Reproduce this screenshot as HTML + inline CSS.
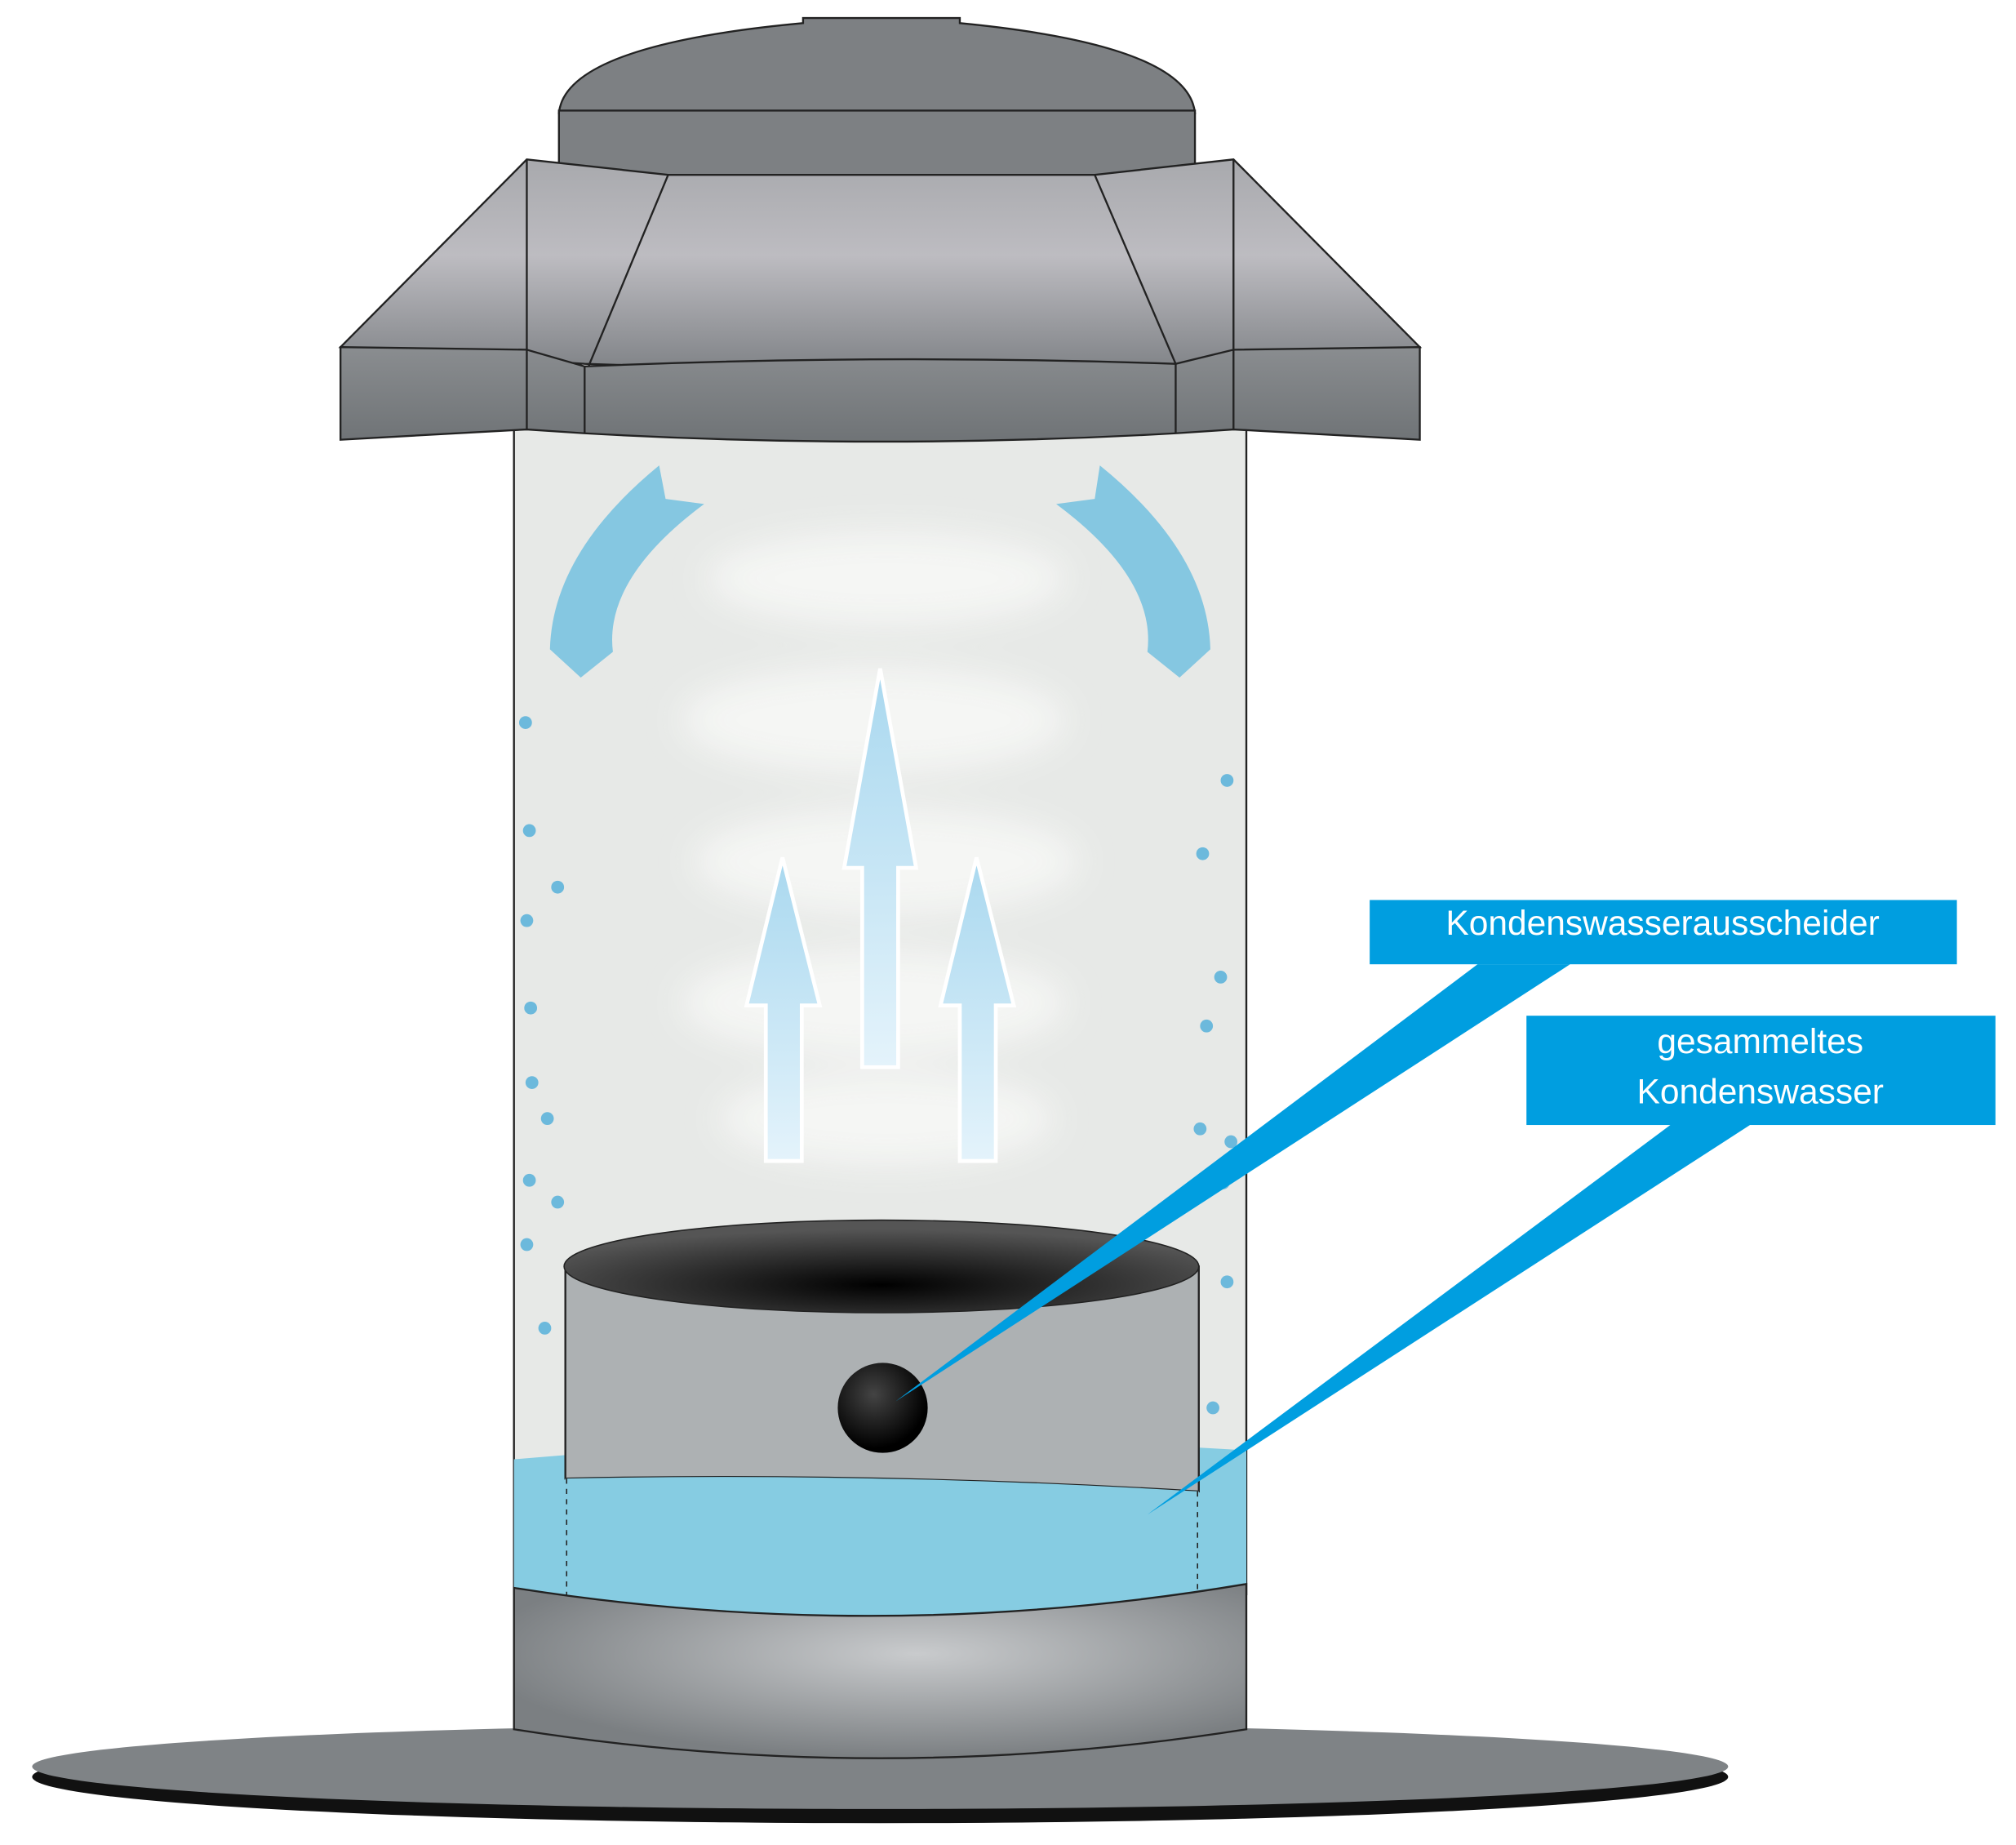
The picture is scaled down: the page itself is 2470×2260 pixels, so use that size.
<!DOCTYPE html>
<html><head><meta charset="utf-8"><style>html,body{margin:0;padding:0;background:#fff}svg{display:block}</style></head><body>
<svg width="2470" height="2260" viewBox="0 0 1569 1435" preserveAspectRatio="none" xmlns="http://www.w3.org/2000/svg">
<defs>
<linearGradient id="hood" x1="0" y1="0" x2="0" y2="1"><stop offset="0" stop-color="#a8a9ad"/><stop offset="0.45" stop-color="#bdbcc1"/><stop offset="1" stop-color="#7f8286"/></linearGradient>
<linearGradient id="band" x1="0" y1="0" x2="0" y2="1"><stop offset="0" stop-color="#8a8d90"/><stop offset="1" stop-color="#6f7376"/></linearGradient>
<radialGradient id="base" cx="0.55" cy="0.4" r="0.6"><stop offset="0" stop-color="#c9cbcd"/><stop offset="1" stop-color="#7b7f82"/></radialGradient>
<radialGradient id="cuptop" cx="0.5" cy="0.7" r="0.6"><stop offset="0" stop-color="#000"/><stop offset="1" stop-color="#555"/></radialGradient>
<radialGradient id="ball" cx="0.4" cy="0.35" r="0.6"><stop offset="0" stop-color="#444"/><stop offset="1" stop-color="#000"/></radialGradient>
<linearGradient id="arr" x1="0" y1="0" x2="0" y2="1"><stop offset="0" stop-color="#a9d8ef"/><stop offset="1" stop-color="#e4f3fb"/></linearGradient>
<filter id="blur"><feGaussianBlur stdDeviation="14"/></filter>
</defs>
<ellipse cx="685" cy="1382" rx="660" ry="36" fill="#111"/>
<ellipse cx="685" cy="1374" rx="660" ry="33" fill="#7f8386"/>
<rect x="400" y="330" width="570" height="910" fill="#e7e9e7" stroke="#222" stroke-width="1.5"/>
<g filter="url(#blur)" fill="#f7f8f6" opacity="0.9">
<ellipse cx="690" cy="450" rx="140" ry="35"/><ellipse cx="680" cy="560" rx="150" ry="40"/>
<ellipse cx="690" cy="670" rx="150" ry="40"/><ellipse cx="680" cy="780" rx="150" ry="40"/><ellipse cx="690" cy="870" rx="130" ry="35"/>
</g>
<g fill="#6cb9dc">
<circle cx="409" cy="562" r="5"/><circle cx="412" cy="646" r="5"/><circle cx="434" cy="690" r="5"/><circle cx="410" cy="716" r="5"/><circle cx="413" cy="784" r="5"/><circle cx="414" cy="842" r="5"/><circle cx="426" cy="870" r="5"/><circle cx="412" cy="918" r="5"/><circle cx="434" cy="935" r="5"/><circle cx="410" cy="968" r="5"/><circle cx="424" cy="1033" r="5"/>
<circle cx="955" cy="607" r="5"/><circle cx="936" cy="664" r="5"/><circle cx="950" cy="760" r="5"/><circle cx="939" cy="798" r="5"/><circle cx="934" cy="878" r="5"/><circle cx="958" cy="888" r="5"/><circle cx="952" cy="920" r="5"/><circle cx="955" cy="997" r="5"/><circle cx="944" cy="1095" r="5"/>
</g>
<path d="M548 392 L518 388 L513 362 Q430 430 428 505 L452 527 L477 507 Q470 450 548 392Z" fill="#85c7e1"/>
<path d="M822 392 L852 388 L856 362 Q940 430 942 505 L918 527 L893 507 Q900 450 822 392Z" fill="#85c7e1"/>
<g fill="url(#arr)" stroke="#fff" stroke-width="3">
<path d="M685 520 L713 675 L699 675 L699 830 L671 830 L671 675 L657 675Z"/>
<path d="M609 667 L638 782 L624 782 L624 903 L596 903 L596 782 L581 782Z"/>
<path d="M760 667 L789 782 L775 782 L775 903 L747 903 L747 782 L732 782Z"/>
</g>
<path d="M400 1135 Q685 1110 970 1128 L970 1265 L400 1265Z" fill="#86cce2"/>
<path d="M440 985 L933 985 L933 1160 Q685 1145 440 1150Z" fill="#adb1b3" stroke="#222" stroke-width="1.5"/>
<path d="M440 1150 Q685 1145 933 1160 L933 1245 L440 1245Z" fill="#86cce2"/>
<line x1="441" y1="1150" x2="441" y2="1250" stroke="#222" stroke-dasharray="4,4"/>
<line x1="932" y1="1160" x2="932" y2="1250" stroke="#222" stroke-dasharray="4,4"/>
<ellipse cx="686" cy="985" rx="247" ry="36" fill="url(#cuptop)" stroke="#222"/>
<circle cx="687" cy="1095" r="35" fill="url(#ball)"/>
<path d="M400 1235 Q685 1280 970 1232 L970 1345 Q685 1390 400 1345Z" fill="url(#base)" stroke="#222" stroke-width="1.5"/>
<path d="M435 88 Q440 35 625 18 L625 14 L747 14 L747 18 Q925 35 930 88Z" fill="#7d8083" stroke="#222" stroke-width="1.5"/>
<rect x="435" y="86" width="495" height="50" fill="#7d8083" stroke="#222" stroke-width="1.5"/>
<path d="M410 124 L520 136 L852 136 L960 124 L1105 270 L915 283 L685 290 L455 283 L265 270Z" fill="url(#hood)" stroke="#222" stroke-width="1.5"/>
<path d="M520 136 L458 285 M852 136 L915 283 M410 124 L410 272 M960 124 L960 272" stroke="#222" stroke-width="1.5" fill="none"/>
<path d="M265 270 L410 272 L455 285 Q685 275 915 283 L960 272 L1105 270 L1105 342 L960 334 L915 337 Q685 350 455 337 L410 334 L265 342Z" fill="url(#band)" stroke="#222" stroke-width="1.5"/>
<path d="M410 272 L410 334 M455 285 L455 337 M915 283 L915 337 M960 272 L960 334" stroke="#222" stroke-width="1.5"/>
<path d="M1150 750 L1222 750 L697 1090Z" fill="#009ee0"/>
<path d="M1300 875 L1362 875 L893 1178Z" fill="#009ee0"/>
<rect x="1066" y="700" width="457" height="50" fill="#009ee0"/>
<rect x="1188" y="790" width="365" height="85" fill="#009ee0"/>
<g font-family="Liberation Sans, sans-serif" font-size="27" fill="#fff" text-anchor="middle">
<text x="1294" y="727">Kondenswasserausscheider</text>
<text x="1370" y="819">gesammeltes</text>
<text x="1370" y="858">Kondenswasser</text>
</g>
</svg>
</body></html>
